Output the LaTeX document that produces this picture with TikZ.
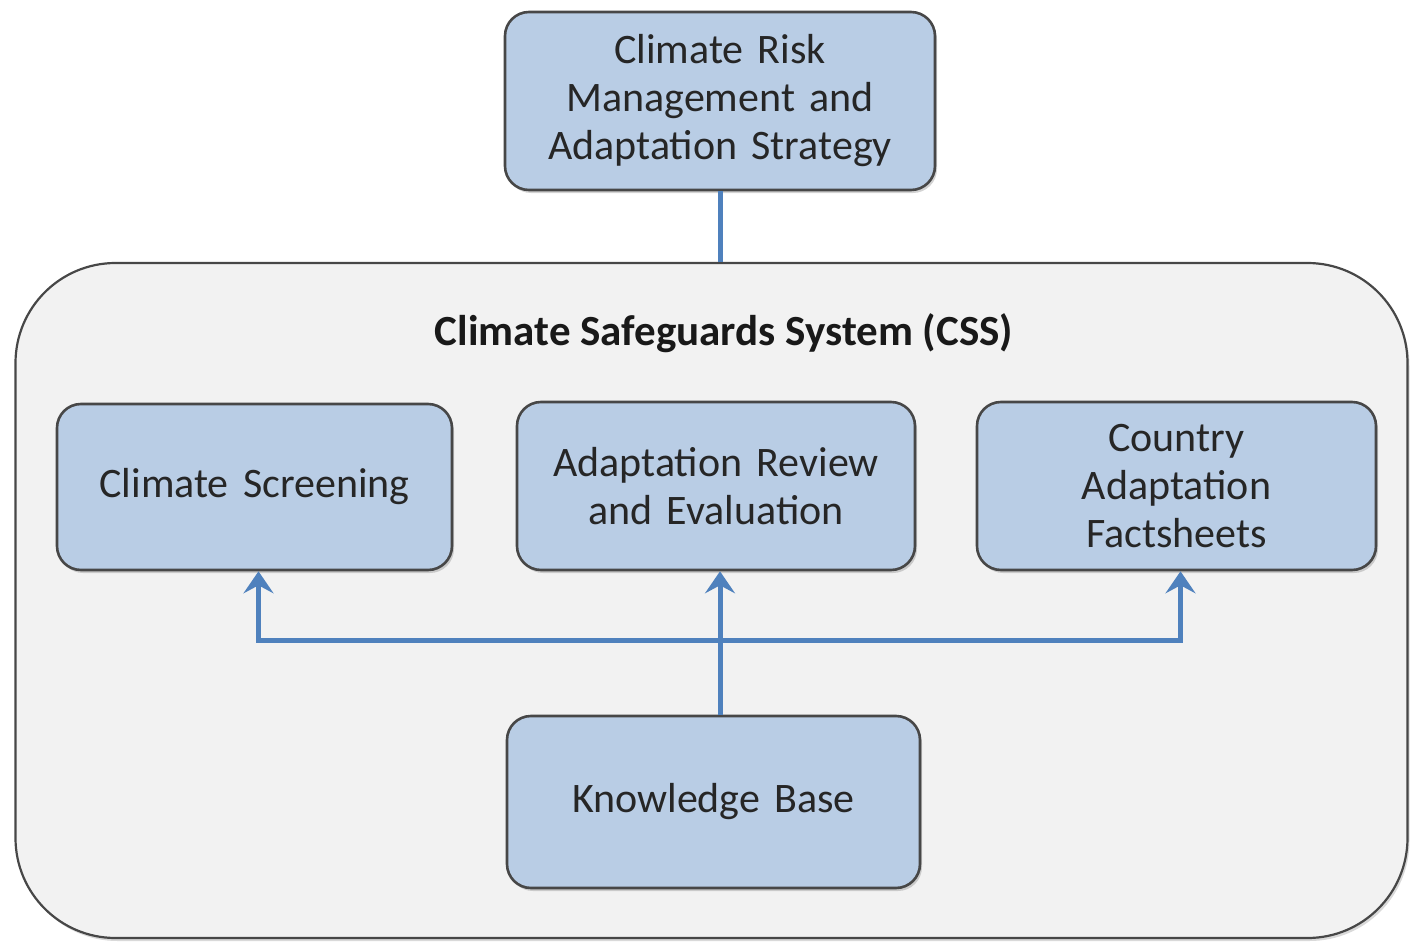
\documentclass[tikz,border=0pt]{standalone}
\usepackage{fontspec}
\setmainfont{Carlito}
\newfontfamily\boxfont[WordSpace=1.5]{Carlito}
\usetikzlibrary{arrows.meta,shadows}
\definecolor{boxblue}{HTML}{B9CDE5}
\definecolor{outerfill}{HTML}{F2F2F2}
\definecolor{arrowblue}{HTML}{4F81BD}
\begin{document}
\begin{tikzpicture}[x=0.5pt,y=-0.5pt,
  box/.style={draw=black!72, line width=1.3pt, fill=boxblue, rounded corners=12pt,
    align=center, inner sep=0pt, text=black!85,
    font=\boxfont\fontsize{21}{24}\selectfont,
    drop shadow={shadow xshift=1pt, shadow yshift=-1.5pt, opacity=0.35}},
  outerbox/.style={draw=black!72, line width=1.1pt, fill=outerfill, rounded corners=50pt, inner sep=0pt,
    drop shadow={shadow xshift=1pt, shadow yshift=-1.5pt, opacity=0.3}},
  conn/.style={draw=arrowblue, line width=2.5pt},
  arr/.style={conn, -{Stealth[length=11pt,width=15pt,inset=4pt]}}]
\useasboundingbox (0,0) rectangle (1410,942);
\node[outerbox, minimum width=696pt, minimum height=337.5pt] (outer) at (711.5,600.5) {};
\node[font=\bfseries\fontsize{21.5}{24}\selectfont, text=black!90] (title) at (724,333) {Climate Safeguards System (CSS)};
\node[box, minimum width=215pt, minimum height=89pt] (top) at (720,101) {Climate Risk\\Management and\\Adaptation Strategy};
\node[box, minimum width=197.5pt, minimum height=83pt] (screen) at (254.5,487) {Climate Screening};
\node[box, minimum width=199pt, minimum height=84pt] (review) at (716,486) {Adaptation Review\\and Evaluation};
\node[box, minimum width=199.5pt, minimum height=84pt] (country) at (1176.5,486) {Country\\Adaptation\\Factsheets};
\node[box, minimum width=206.5pt, minimum height=86pt] (kb) at (713.5,802) {Knowledge Base};
\coordinate (j) at (720,640);
\draw[conn] (top.south -| j) -- (j |- outer.north);
\draw[conn] (j |- kb.north) -- (j);
\draw[arr] (j) -- (j |- review.south);
\draw[arr] (j) -| ([xshift=2pt]screen.south);
\draw[arr] (j) -| ([xshift=2pt]country.south);
\end{tikzpicture}
\end{document}
